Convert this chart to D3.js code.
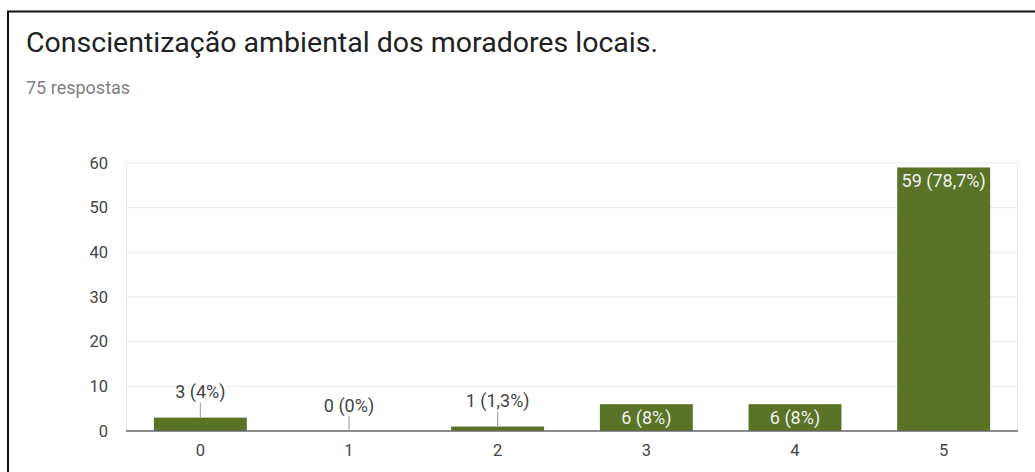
<!DOCTYPE html>
<html lang="pt">
<head>
<meta charset="UTF-8">
<title>Conscientização ambiental</title>
<script src="https://cdn.jsdelivr.net/npm/d3@7"></script>
<style>
  body { margin: 0; background: #fff; font-family: Roboto, Arial, sans-serif; }
  svg { display: block; }
</style>
</head>
<body>
<svg id="chart" width="1035" height="472"></svg>
<script>
// dados
var categories = ["0", "1", "2", "3", "4", "5"];
var counts = [3, 0, 1, 6, 6, 59];
var pctLabels = ["4%", "0%", "1,3%", "8%", "8%", "78,7%"];
var yTicks = [0, 10, 20, 30, 40, 50, 60];

var W = 1035, H = 472;
var margin = {left: 126, right: 17, top: 163, bottom: 41};
var green = "#5a7327";

var svg = d3.select("#chart");

// moldura (borda superior e esquerda)
svg.append("path")
  .attr("d", "M8," + H + " V11.5 H" + W)
  .attr("fill", "none")
  .attr("stroke", "#111")
  .attr("stroke-width", 2);

svg.append("text")
  .attr("x", 26).attr("y", 52)
  .attr("font-size", 28.5)
  .attr("fill", "#212121")
  .text("Conscientização ambiental dos moradores locais.");

svg.append("text")
  .attr("x", 26).attr("y", 94)
  .attr("font-size", 18)
  .attr("fill", "#808080")
  .text("75 respostas");

var x = d3.scaleBand()
  .domain(categories)
  .range([margin.left, W - margin.right])
  .paddingInner(0.375)
  .paddingOuter(0.1875);

var y = d3.scaleLinear()
  .domain([0, 60])
  .range([H - margin.bottom, margin.top]);

// grade
svg.append("g").selectAll("line")
  .data(yTicks.slice(1))
  .enter().append("line")
  .attr("x1", margin.left).attr("x2", W - margin.right)
  .attr("y1", function(d) { return y(d); })
  .attr("y2", function(d) { return y(d); })
  .attr("stroke", "#ebebeb").attr("stroke-width", 1);

svg.append("line")
  .attr("x1", margin.left + 0.5).attr("x2", margin.left + 0.5)
  .attr("y1", margin.top).attr("y2", y(0))
  .attr("stroke", "#ebebeb");
svg.append("line")
  .attr("x1", W - margin.right - 0.5).attr("x2", W - margin.right - 0.5)
  .attr("y1", margin.top).attr("y2", y(0))
  .attr("stroke", "#ebebeb");

// eixo y
var yAxis = svg.append("g")
  .attr("transform", "translate(" + (margin.left - 18) + ",0)")
  .call(d3.axisLeft(y).tickValues(yTicks).tickSize(0).tickPadding(0));
yAxis.select(".domain").remove();
yAxis.selectAll("text")
  .attr("font-family", "Roboto, Arial, sans-serif")
  .attr("font-size", 16.5).attr("fill", "#444");

// barras
svg.append("g").selectAll("rect")
  .data(counts)
  .enter().append("rect")
  .attr("x", function(d, i) { return x(categories[i]); })
  .attr("y", function(d) { return y(d); })
  .attr("width", x.bandwidth())
  .attr("height", function(d) { return y(0) - y(d); })
  .attr("fill", green);

// linha de base
svg.append("line")
  .attr("x1", margin.left).attr("x2", W - margin.right)
  .attr("y1", y(0)).attr("y2", y(0))
  .attr("stroke", "#666").attr("stroke-width", 1.5);

// eixo x
var xAxis = svg.append("g")
  .attr("transform", "translate(0," + (y(0) + 13) + ")")
  .call(d3.axisBottom(x).tickSize(0).tickPadding(0));
xAxis.select(".domain").remove();
xAxis.selectAll("text")
  .attr("font-family", "Roboto, Arial, sans-serif")
  .attr("font-size", 16.5).attr("fill", "#444");

// rótulos
counts.forEach(function(d, i) {
  var cx = x(categories[i]) + x.bandwidth() / 2;
  var label = d + " (" + pctLabels[i] + ")";
  var inside = (y(0) - y(d)) > 18;
  if (inside) {
    svg.append("text")
      .attr("x", cx).attr("y", y(d) + 20)
      .attr("text-anchor", "middle")
      .attr("font-size", 18)
      .attr("fill", "#eef2f0")
      .text(label);
  } else {
    var base = y(d) - 19.5;
    svg.append("line")
      .attr("x1", cx).attr("x2", cx)
      .attr("y1", base + 4.5).attr("y2", y(d))
      .attr("stroke", "#999").attr("stroke-width", 1);
    svg.append("text")
      .attr("x", cx).attr("y", base)
      .attr("text-anchor", "middle")
      .attr("font-size", 18)
      .attr("fill", "#444")
      .text(label);
  }
});
</script>
</body>
</html>
